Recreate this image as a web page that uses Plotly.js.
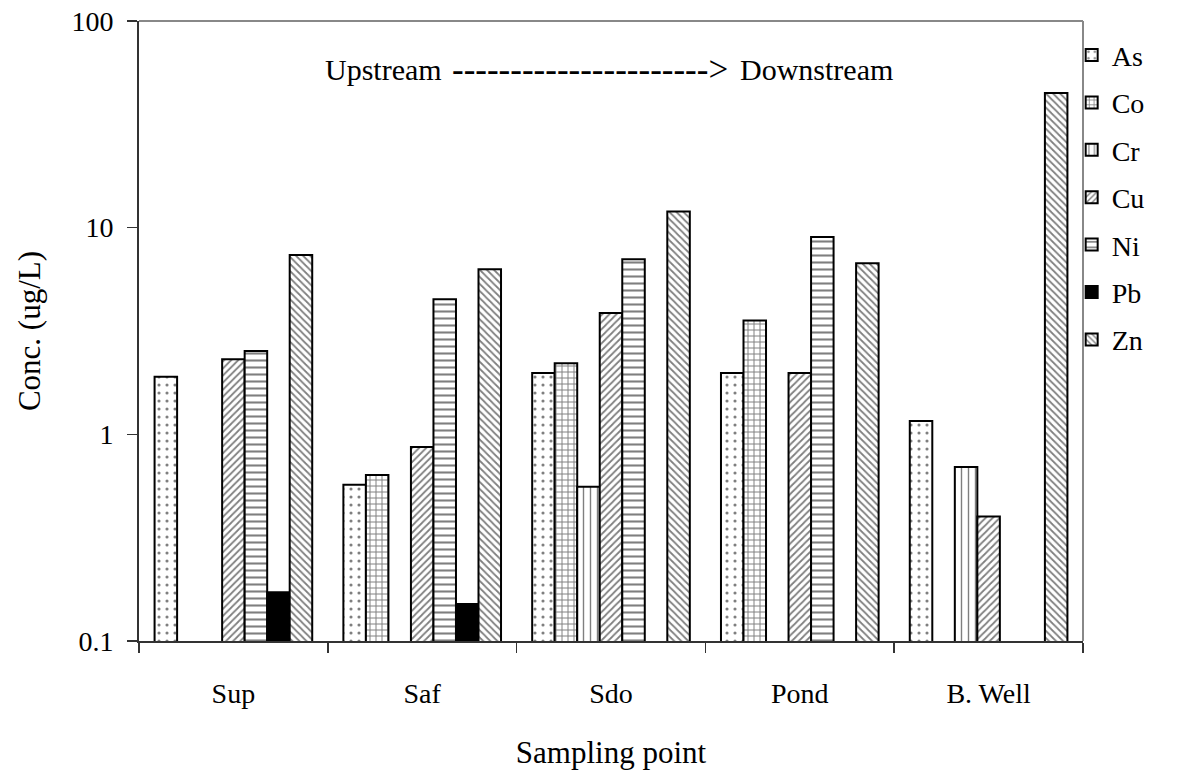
<!DOCTYPE html>
<html>
<head>
<meta charset="utf-8">
<script src="https://cdn.plot.ly/plotly-3.0.1.min.js"></script>
<style>html,body{margin:0;padding:0;background:#fff;}#chart{width:1184px;height:778px;}</style>
</head>
<body>
<div id="chart"></div>
<script>
const categories = ["Sup", "Saf", "Sdo", "Pond", "B. Well"];
const seriesNames = ["As", "Co", "Cr", "Cu", "Ni", "Pb", "Zn"];
const asVals = [1.9, 0.57, 1.98, 1.98, 1.16];
const coVals = [null, 0.636, 2.21, 3.55, null];
const crVals = [null, null, 0.558, null, 0.695];
const cuVals = [2.31, 0.868, 3.86, 1.98, 0.4];
const niVals = [2.53, 4.51, 7.03, 9.01, null];
const pbVals = [0.172, 0.151, null, null, null];
const znVals = [7.37, 6.29, 11.99, 6.72, 44.8];
const yTickVals = [0.1, 1, 10, 100];
const yTickText = ["0.1", "1", "10", "100"];
const annotationParts = ["Upstream", "---------------------->", "Downstream"];

const FONT = "Liberation Serif";
const values = [asVals, coVals, crVals, cuVals, niVals, pbVals, znVals];
const patterns = [
  {shape: ".", size: 8, solidity: 0.12},
  {shape: "+", size: 6, solidity: 0.3},
  {shape: "|", size: 7, solidity: 0.2},
  {shape: "/", size: 5, solidity: 0.35},
  {shape: "-", size: 7, solidity: 0.3},
  null,
  {shape: "\\", size: 5, solidity: 0.35}
];

const traces = seriesNames.map((name, i) => {
  const p = patterns[i];
  const marker = {line: {color: "#000", width: 2}};
  if (p) {
    marker.color = "#fff";
    marker.pattern = {shape: p.shape, size: p.size, solidity: p.solidity, fgcolor: "#000", bgcolor: "#fff", fillmode: "overlay"};
  } else {
    marker.color = "#000";
  }
  return {type: "bar", name: name, x: categories, y: values[i], marker: marker, legendgroup: name, hoverinfo: "x+y+name"};
});

const annFont = {family: FONT, size: 30, color: "#000"};
const layout = {
  width: 1184, height: 778,
  margin: {l: 139, r: 101, t: 21, b: 137, pad: 0},
  paper_bgcolor: "#fff", plot_bgcolor: "#fff",
  font: {family: FONT, size: 28, color: "#000"},
  barmode: "group", bargap: 0.165, bargroupgap: 0,
  showlegend: true,
  legend: {x: 0.988, xanchor: "left", y: 0.985, yanchor: "top", font: {family: FONT, size: 28, color: "#000"},
           tracegroupgap: 8, bgcolor: "rgba(0,0,0,0)", borderwidth: 0},
  xaxis: {type: "category", tickson: "boundaries", ticks: "outside", ticklen: 10, tickcolor: "#333", tickwidth: 1.5,
          showline: true, linecolor: "#333", linewidth: 2, showgrid: false, ticklabelstandoff: 26,
          tickfont: {family: FONT, size: 28}, automargin: false,
          title: {text: "Sampling point", font: {family: FONT, size: 31}, standoff: 34}},
  yaxis: {type: "log", range: [-1, 2], tickvals: yTickVals, ticktext: yTickText, ticks: "outside", ticklen: 10,
          tickcolor: "#333", tickwidth: 1.5, showline: true, linecolor: "#333", linewidth: 2, showgrid: false,
          zeroline: false, ticklabelstandoff: 8, tickfont: {family: FONT, size: 28}, automargin: false,
          title: {text: "Conc. (ug/L)", font: {family: FONT, size: 31}, standoff: 22}},
  shapes: [
    {type: "line", xref: "paper", yref: "paper", x0: 0, x1: 1, y0: 1, y1: 1, line: {color: "#888", width: 2}},
    {type: "line", xref: "paper", yref: "paper", x0: 1, x1: 1, y0: 0, y1: 1, line: {color: "#888", width: 2}}
  ],
  annotations: [
    {xref: "paper", yref: "paper", x: (323 - 139) / 944, y: 0.922, xanchor: "left", yanchor: "middle", showarrow: false,
     text: annotationParts[0], font: annFont},
    {xref: "paper", yref: "paper", x: (590 - 139) / 944, y: 0.922, xanchor: "center", yanchor: "middle", showarrow: false,
     text: annotationParts[1], font: {family: FONT, size: 35, color: "#000"}},
    {xref: "paper", yref: "paper", x: (895 - 139) / 944, y: 0.922, xanchor: "right", yanchor: "middle", showarrow: false,
     text: annotationParts[2], font: annFont}
  ]
};

Plotly.newPlot("chart", traces, layout, {displayModeBar: false, staticPlot: true});
</script>
</body>
</html>
